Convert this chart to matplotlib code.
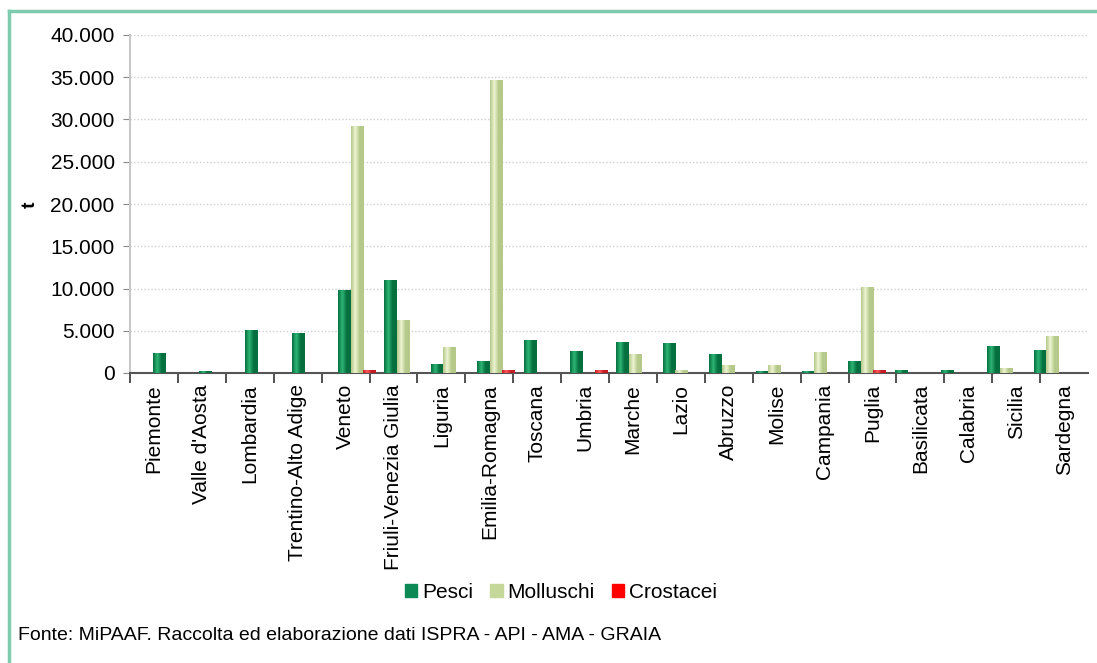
import numpy as np
import matplotlib
matplotlib.use("Agg")
import matplotlib.pyplot as plt
from matplotlib.colors import LinearSegmentedColormap
from matplotlib.ticker import FuncFormatter
from matplotlib.patches import Patch

# dati (t)
regioni = ["Piemonte", "Valle d'Aosta", "Lombardia", "Trentino-Alto Adige", "Veneto",
           "Friuli-Venezia Giulia", "Liguria", "Emilia-Romagna", "Toscana", "Umbria",
           "Marche", "Lazio", "Abruzzo", "Molise", "Campania", "Puglia", "Basilicata",
           "Calabria", "Sicilia", "Sardegna"]
pesci = [2400, 200, 5050, 4700, 9850, 11000, 1100, 1400, 3900, 2600,
         3700, 3600, 2300, 200, 200, 1400, 300, 300, 3200, 2700]
molluschi = [0, 0, 0, 0, 29200, 6300, 3100, 34700, 0, 0,
             2300, 400, 1000, 900, 2500, 10200, 0, 0, 600, 4400]
crostacei = [0, 0, 0, 0, 300, 0, 0, 300, 0, 300,
             0, 0, 0, 0, 0, 300, 0, 0, 0, 0]

plt.rcParams['font.family'] = ['Liberation Sans', 'DejaVu Sans']

fig = plt.figure(figsize=(10.97, 6.63), dpi=100)
ax = fig.add_axes([130 / 1097, 1 - 373 / 663, (1088 - 130) / 1097, (373 - 35) / 663])

idx = np.arange(len(regioni))
# piccolo spostamento prospettico come nel grafico 3D originale
shift = 0.1 - 0.6 * idx / (len(regioni) - 1)
w = 0.26


def cilindro(bars, scuro, chiaro):
    # sfumatura orizzontale per dare l'effetto cilindro
    cmap = LinearSegmentedColormap.from_list("c", [scuro, chiaro, scuro, scuro])
    grad = np.linspace(0, 1, 64).reshape(1, -1)
    for b in bars:
        if b.get_height() <= 0:
            continue
        x0, y0 = b.get_x(), b.get_y()
        im = ax.imshow(grad, cmap=cmap, aspect='auto', zorder=3,
                       extent=(x0, x0 + b.get_width(), y0, y0 + b.get_height()))
        im.set_clip_path(b)


b1 = ax.bar(idx + shift, pesci, w, color='#0b8a55', zorder=2)
b2 = ax.bar(idx + shift + w, molluschi, w, color='#c9dc9e', zorder=2)
b3 = ax.bar(idx + shift + 2 * w, crostacei, w, color='#e02a2a', zorder=2)
cilindro(b1, '#05703f', '#2fb676')
cilindro(b2, '#b5c98a', '#eef4d2')
cilindro(b3, '#c41c22', '#ff5a5a')

ax.set_xlim(-0.5, len(regioni) - 0.5)
ax.set_ylim(0, 40000)
ax.set_yticks(np.arange(0, 40001, 5000))
ax.yaxis.set_major_formatter(FuncFormatter(lambda v, p: f"{int(v):,}".replace(",", ".")))
ax.yaxis.grid(True, linestyle=(0, (1, 1.5)), color='#cfcfcf', linewidth=1)
ax.set_axisbelow(True)

ax.set_xticks(idx - 0.5)
ax.set_xticks(idx, minor=True)
ax.set_xticklabels([])
ax.set_xticklabels(regioni, minor=True, rotation=90, va='top', fontsize=15)
ax.tick_params(axis='x', which='major', length=7, width=1.2, color='#333333', direction='out')
ax.tick_params(axis='x', which='minor', length=0, pad=8)
ax.tick_params(axis='y', length=5, color='#888888', labelsize=15, pad=6)

for s in ['top', 'right']:
    ax.spines[s].set_visible(False)
ax.spines['left'].set_color('#c8c8c8')
ax.spines['left'].set_linewidth(1.5)
ax.spines['bottom'].set_color('#555555')
ax.spines['bottom'].set_linewidth(1.5)

fig.text(30 / 1097, 1 - 205 / 663, "t", rotation=90, fontsize=14, fontweight='bold',
         ha='center', va='center')

handles = [Patch(color='#0b8a55'), Patch(color='#c5d89a'), Patch(color='#ff0000')]
fig.legend(handles, ["Pesci", "Molluschi", "Crostacei"], loc='center',
           bbox_to_anchor=(561 / 1097, 1 - 592 / 663), ncol=3, frameon=False,
           fontsize=15, handlelength=0.6, handleheight=0.6, handletextpad=0.25,
           columnspacing=0.8)

fig.text(18 / 1097, 1 - 636 / 663,
         "Fonte: MiPAAF. Raccolta ed elaborazione dati ISPRA - API - AMA - GRAIA",
         fontsize=14, va='center', ha='left')

# cornice verde acqua (sinistra e sopra)
fig.add_artist(plt.Line2D([9 / 1097, 9 / 1097], [0, 1 - 11 / 663],
                          color='#7fcbb0', linewidth=2.5, transform=fig.transFigure))
fig.add_artist(plt.Line2D([9 / 1097, 1], [1 - 11 / 663, 1 - 11 / 663],
                          color='#7fcbb0', linewidth=2.5, transform=fig.transFigure))

fig.savefig("out.png", dpi=100)
